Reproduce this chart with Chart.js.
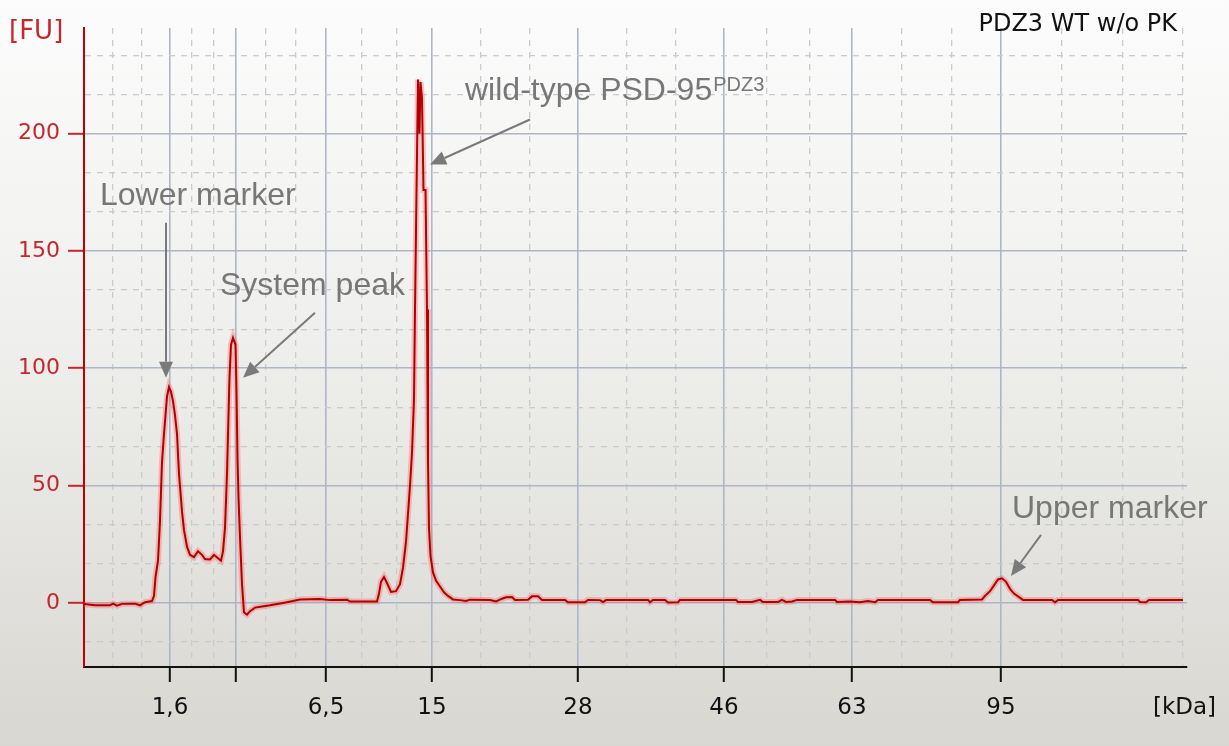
<!DOCTYPE html>
<html><head><meta charset="utf-8">
<script src="https://cdn.jsdelivr.net/npm/chart.js@4.4.0/dist/chart.umd.min.js"></script>
<style>html,body{margin:0;padding:0;background:#fff;overflow:hidden}canvas{display:block}</style>
</head><body>
<canvas id="c" width="1229" height="746"></canvas>
<script>
// ---- data (migration time in arbitrary units, fluorescence in FU) ----
const migrationTime = [
  0.0,1.1,2.6,2.9,3.3,3.8,5.1,5.6,6.1,6.8,
  7.0,7.15,7.4,7.6,7.8,8.0,8.3,8.5,8.7,8.9,
  9.1,9.3,9.5,9.8,10.0,10.3,10.6,11.0,11.4,11.8,
  12.1,12.6,13.0,13.4,13.7,13.9,14.1,14.3,14.45,14.55,
  14.7,14.9,15.15,15.25,15.35,15.45,15.6,15.8,16.0,16.3,
  16.6,17.1,17.8,18.6,19.9,20.9,21.6,23.6,24.6,26.3,
  26.6,29.3,29.5,29.7,30.0,30.3,30.7,31.2,31.6,31.9,
  32.2,32.4,32.6,32.8,33.0,33.1,33.25,33.4,33.55,33.65,
  33.8,33.95,34.15,34.3,34.4,34.5,34.65,34.9,35.2,35.6,
  36.0,36.4,36.9,37.6,38.2,38.6,40.6,41.2,41.8,42.2,
  42.8,43.1,44.4,44.8,45.4,45.8,48.1,48.4,50.1,50.4,
  51.6,51.9,52.2,56.4,56.6,56.9,58.1,58.4,59.4,59.6,
  60.4,61.6,65.2,65.4,66.8,67.6,67.9,69.4,69.8,70.2,
  70.8,71.3,73.6,75.1,75.3,76.6,77.6,78.4,79.1,79.4,
  84.6,84.9,87.4,87.6,89.8,90.1,90.6,91.0,91.4,91.8,
  92.2,92.6,93.0,93.5,93.9,96.8,97.1,97.4,105.4,105.6,
  106.2,106.5,109.9
];
const fluorescence = [
  -0.5,-1,-1,-0.3,-1.2,-0.4,-0.3,-1,0.3,0.8,
  3,11,18,35,60,72,88,92,90,86,
  80,72,55,39,31,24,20.5,19.5,22,20.5,
  18.7,18.5,20.5,19,18,22,32,55,80,96,
  110,113,110,90,62,45,28,8,-4,-5,
  -3.5,-2,-1.5,-1,0,0.8,1.5,1.7,1.2,1.4,
  0.6,0.6,4,9,11,8.5,4.7,5,8,15,
  26,38,50,64,87,125,175,223,200,222,
  215,176,176,125,60,32,20,13,9.5,7,
  4.5,3,1.5,1.2,0.8,1.4,1.2,0.6,1.8,2.4,
  2.5,1.3,1.4,2.8,2.8,1.3,1.3,0.3,0.3,1.3,
  1.2,0.4,1.2,1.3,0.3,1.3,1.3,0.2,0.3,1.3,
  1.3,1.3,1.3,0.4,0.4,1.3,0.4,0.4,1.3,0.4,
  0.6,1.3,1.3,1.3,0.4,0.6,0.3,0.8,0.3,1.3,
  1.3,0.3,0.3,1.3,1.5,3,5,7.5,10,10.5,
  9,6,4,2.5,1.3,1.3,0.3,1.3,1.3,0.4,
  0.3,1.3,1.3
];
// ladder (size standard) positions on the time axis and their labels
const ladderTime   = [8.6, 15.2, 24.2, 34.8, 49.4, 64.0, 76.8, 91.7];
const ladderLabels = ['1,6', '', '6,5', '15', '28', '46', '63', '95'];
const xRange = [0, 110.3];
const xGridEnd = 109.9;
const fuTicks = [0, 50, 100, 150, 200];
const yRange = [-27.3, 245];

const chartTitle = 'PDZ3 WT w/o PK';
const yUnit = '[FU]';
const xUnit = '[kDa]';

// annotations (data coordinates)
const noteTexts = ['Lower marker', 'System peak', 'wild-type PSD-95', 'Upper marker'];
const noteSup   = ['', '', 'PDZ3', ''];
const notePos   = [[1.6, 169.7], [13.6, 131.3], [38.1, 214.5], [92.8, 36.2]];
const arrowFrom = [[8.2, 162], [23.1, 123.7], [44.6, 206], [95.7, 29]];
const arrowTo   = [[8.2, 96], [15.9, 96], [34.6, 186.8], [92.7, 11.5]];

// ---- helpers ----
const near = (a, b) => Math.abs(a - b) < 1e-6;
const isXMajor = v => ladderTime.some(t => near(t, v));
const isYMajor = v => fuTicks.some(t => near(t, v));

function xTickValues() {
  const bounds = [xRange[0], ...ladderTime, xGridEnd];
  const vals = [];
  for (let i = 0; i < bounds.length - 1; i++) {
    const a = bounds[i], b = bounds[i + 1];
    vals.push(a + (b - a) / 3, a + 2 * (b - a) / 3);
  }
  vals.push(xGridEnd);
  return [...vals, ...ladderTime].sort((p, q) => p - q);
}
function yTickValues() {
  const step = (fuTicks[1] - fuTicks[0]) / 3;
  const vals = [];
  for (let k = Math.ceil(yRange[0] / step); k * step <= yRange[1]; k++) {
    const v = Math.round(k * step * 1000) / 1000;
    vals.push(isYMajor(v) ? fuTicks.find(t => near(t, v)) : v);
  }
  return vals;
}

const decor = {
  id: 'decor',
  beforeDraw(chart) {
    const {ctx, width, height} = chart;
    const g = ctx.createLinearGradient(0, 0, 0, height);
    g.addColorStop(0, '#fcfcfc');
    g.addColorStop(0.45, '#efefed');
    g.addColorStop(1, '#d8d7d2');
    ctx.save(); ctx.fillStyle = g; ctx.fillRect(0, 0, width, height); ctx.restore();
  },
  afterDraw(chart) {
    const {ctx, chartArea: a, scales: {x, y}} = chart;
    ctx.save();
    ctx.textBaseline = 'alphabetic';
    // title
    ctx.font = '24px "DejaVu Sans"'; ctx.fillStyle = '#111'; ctx.textAlign = 'right';
    ctx.fillText(chartTitle, a.right - 10, 31);
    // units
    ctx.font = '26px "DejaVu Sans"'; ctx.fillStyle = '#c3282e'; ctx.textAlign = 'left';
    ctx.fillText(yUnit, 9, 39);
    ctx.font = '23px "DejaVu Sans"'; ctx.fillStyle = '#111';
    ctx.fillText(xUnit, a.right - 34, 714);
    // arrows
    ctx.strokeStyle = '#7a7a7a'; ctx.fillStyle = '#7a7a7a'; ctx.lineWidth = 2;
    for (let i = 0; i < arrowFrom.length; i++) {
      const x1 = x.getPixelForValue(arrowFrom[i][0]), y1 = y.getPixelForValue(arrowFrom[i][1]);
      const x2 = x.getPixelForValue(arrowTo[i][0]), y2 = y.getPixelForValue(arrowTo[i][1]);
      const ang = Math.atan2(y2 - y1, x2 - x1), hl = 16, hw = 7;
      const bx = x2 - hl * Math.cos(ang), by = y2 - hl * Math.sin(ang);
      ctx.beginPath(); ctx.moveTo(x1, y1); ctx.lineTo(bx, by); ctx.stroke();
      ctx.beginPath();
      ctx.moveTo(x2, y2);
      ctx.lineTo(bx + hw * Math.sin(ang), by - hw * Math.cos(ang));
      ctx.lineTo(bx - hw * Math.sin(ang), by + hw * Math.cos(ang));
      ctx.closePath(); ctx.fill();
    }
    // texts
    ctx.fillStyle = '#777777'; ctx.textAlign = 'left';
    for (let i = 0; i < noteTexts.length; i++) {
      const px = x.getPixelForValue(notePos[i][0]), py = y.getPixelForValue(notePos[i][1]);
      ctx.font = '32px "Liberation Sans"';
      ctx.fillText(noteTexts[i], px, py);
      if (noteSup[i]) {
        const w = ctx.measureText(noteTexts[i]).width;
        ctx.font = '20px "Liberation Sans"';
        ctx.fillText(noteSup[i], px + w + 1, py - 9);
      }
    }
    ctx.restore();
  }
};

const points = migrationTime.map((t, i) => ({x: t, y: fluorescence[i]}));

new Chart(document.getElementById('c'), {
  type: 'line',
  data: {
    datasets: [
      {data: points, borderColor: '#b00000', borderWidth: 2, pointRadius: 0, tension: 0, order: 1},
      {data: points, borderColor: 'rgba(255,95,95,0.35)', borderWidth: 6, pointRadius: 0, tension: 0, order: 2}
    ]
  },
  options: {
    responsive: false,
    animation: false,
    devicePixelRatio: 1,
    layout: {padding: {top: 28, right: 42, left: 0, bottom: 0}},
    plugins: {legend: {display: false}, tooltip: {enabled: false}, title: {display: false}},
    scales: {
      x: {
        type: 'linear', min: xRange[0], max: xRange[1],
        afterBuildTicks: s => { s.ticks = xTickValues().map(v => ({value: v})); },
        afterFit: s => { s.height = 79; },
        ticks: {
          autoSkip: false, maxRotation: 0, padding: 12, color: '#111',
          font: {family: 'DejaVu Sans', size: 23},
          callback: v => { const k = ladderTime.findIndex(t => near(t, v)); return k >= 0 ? ladderLabels[k] : ''; }
        },
        grid: {
          color: c => (c.tick && isXMajor(c.tick.value)) ? '#adb6c7' : '#cbcbcb',
          lineWidth: c => (c.tick && isXMajor(c.tick.value)) ? 1.6 : 1.3,
          tickLength: 15, tickWidth: 2,
          tickColor: c => (c.tick && isXMajor(c.tick.value)) ? '#111' : 'rgba(0,0,0,0)'
        },
        border: {
          color: '#111', width: 2,
          dash: c => (c.tick && !isXMajor(c.tick.value)) ? [6, 6] : []
        }
      },
      y: {
        type: 'linear', min: yRange[0], max: yRange[1],
        afterBuildTicks: s => { s.ticks = yTickValues().map(v => ({value: v})); },
        afterFit: s => { s.width = 84; },
        ticks: {
          autoSkip: false, padding: 8, color: '#c3282e',
          font: {family: 'DejaVu Sans', size: 22},
          callback: v => isYMajor(v) ? String(v) : ''
        },
        grid: {
          color: c => (c.tick && isYMajor(c.tick.value)) ? '#adb6c7' : '#cbcbcb',
          lineWidth: c => (c.tick && isYMajor(c.tick.value)) ? 1.6 : 1.3,
          tickLength: 16, tickWidth: 2,
          tickColor: c => (c.tick && isYMajor(c.tick.value)) ? '#c3282e' : 'rgba(0,0,0,0)'
        },
        border: {
          color: '#c00000', width: 2,
          dash: c => (c.tick && !isYMajor(c.tick.value)) ? [6, 6] : []
        }
      }
    }
  },
  plugins: [decor]
});
</script>
</body></html>
